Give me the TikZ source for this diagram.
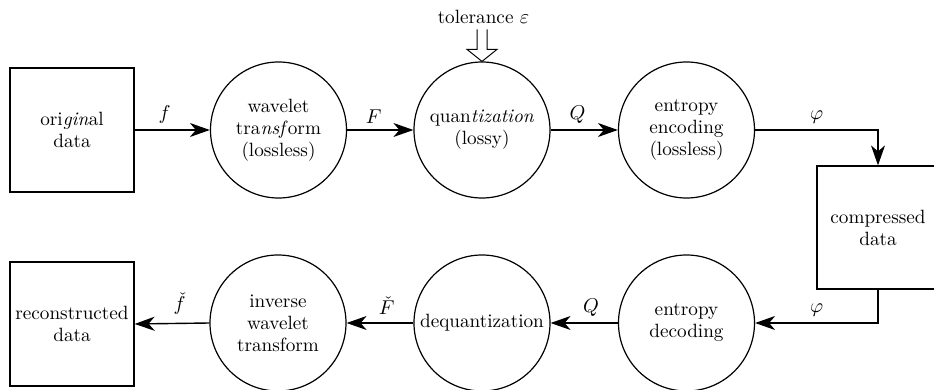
\documentclass[tikz,border=0pt]{standalone}
\usetikzlibrary{arrows.meta,calc}
\begin{document}
\begin{tikzpicture}[x=0.5pt,y=-0.5pt,
  font=\fontsize{9.6}{11}\selectfont,
  every node/.style={align=center},
  proc/.style={draw,circle,line width=0.6pt,minimum size=68pt,inner sep=0pt},
  databox/.style={draw,rectangle,line width=0.6pt,minimum width=62pt,minimum height=62pt,inner sep=0pt},
  flow/.style={line width=0.7pt,-{Stealth[length=10pt,width=7pt,inset=3pt]}},
  lbl/.style={above,inner sep=3pt,pos=0.4}]
\useasboundingbox (0,0) rectangle (934,390);
% top row
\node[databox] (orig) at (72,130) {ori\textit{gin}al\\data};
\node[proc] (wav) at (278.5,130) {wavelet\\tra\textit{nsf}orm\\(lossless)};
\node[proc] (quant) at (482,130) {quan\textit{tization}\\(lossy)};
\node[proc] (enc) at (686.5,130) {entropy\\encoding\\(lossless)};
\node[databox,minimum width=61pt,minimum height=61.5pt] (comp) at (878,227.5) {compressed\\data};
% bottom row
\node[proc] (dec) at (686.5,323) {entropy\\decoding};
\node[proc] (deq) at (482,323) {dequantization};
\node[proc] (inv) at (278,323) {inverse\\wavelet\\transform};
\node[databox] (rec) at (72,324) {reconstructed\\data};
% tolerance
\node (tol) at ($(quant.north)+(1.5,-44)$) {tolerance $\varepsilon$};
\draw[line width=0.5pt] ($(quant.north)+(-5,-32)$) -- ($(quant.north)+(-5,-12)$)
  -- ($(quant.north)+(-15,-12)$) -- ($(quant.north)+(0,0)$)
  -- ($(quant.north)+(15,-12)$) -- ($(quant.north)+(5,-12)$)
  -- ($(quant.north)+(5,-32)$);
% connectors
\draw[flow] (orig.east) -- node[lbl]{$f$} (wav.west);
\draw[flow] (wav.east) -- node[lbl]{$F$} (quant.west);
\draw[flow] (quant.east) -- node[lbl]{$Q$} (enc.west);
\draw[flow] (enc.east) -- node[above,inner sep=3pt,pos=0.5]{$\varphi$} (enc.east -| comp.north) -- (comp.north);
\draw[flow] (comp.south) -- (comp.south |- dec.east) -- node[above,inner sep=3pt,pos=0.5]{$\varphi$} (dec.east);
\draw[flow] (dec.west) -- node[lbl]{$Q$} (deq.east);
\draw[flow] (deq.west) -- node[lbl,inner sep=4pt]{$\check{F}$} (inv.east);
\draw[flow] (inv.west) -- node[lbl,inner sep=4pt]{$\check{f}$} (rec.east);
\end{tikzpicture}
\end{document}
